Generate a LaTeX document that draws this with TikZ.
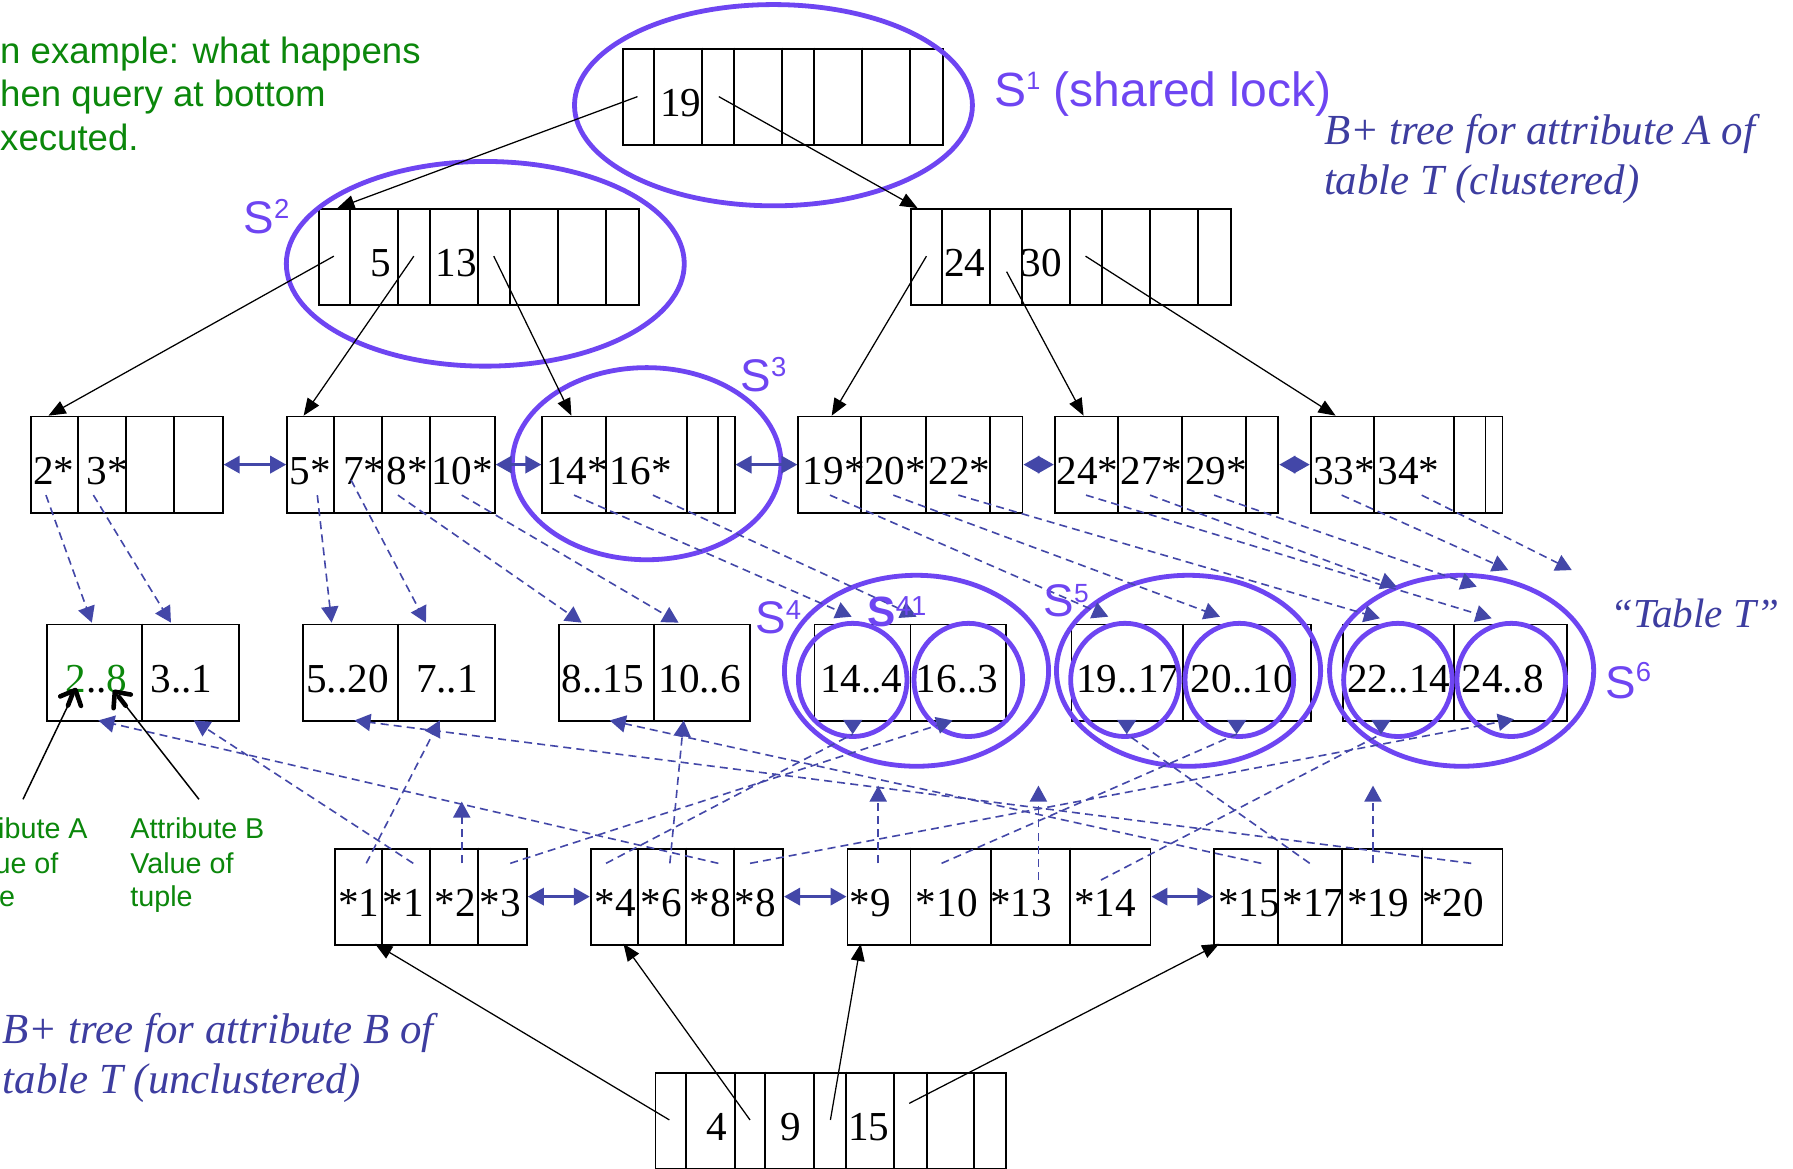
\documentclass[tikz,border=0pt]{standalone}
\usepackage{fontspec}
\setmainfont{Liberation Serif}
\newfontfamily\lsans{Liberation Sans}
\usetikzlibrary{arrows.meta}
\definecolor{lockpurple}{HTML}{6E45F2}
\definecolor{arrowblue}{HTML}{4347A8}
\definecolor{textblue}{HTML}{3D3DA0}
\definecolor{greentxt}{HTML}{0B870B}
\newcommand\lup[3]{\raisebox{#1pt}{\fontsize{#2}{#2}\selectfont #3}}
\newcommand\cellbox[5]{%
  \node[box, minimum width={(#4-#3)*1pt}] (#1) at (#3,#2) {};
  \foreach \xx in {#5} \draw[divider] (\xx,#2) -- (\xx,#2+84);
}
\tikzset{
  box/.style={draw, line width=1.6pt, inner sep=0pt, minimum height=84pt, anchor=north west},
  divider/.style={line width=1.6pt},
  num/.style={anchor=base west, inner sep=0pt, font=\fontsize{36}{36}\selectfont},
  treeptr/.style={line width=1.1pt, -{Triangle[length=15pt,width=12pt]}},
  dptr/.style={arrowblue, line width=1.4pt, dash pattern=on 7pt off 4.5pt, -{Triangle[length=14pt,width=15pt]}},
  dline/.style={arrowblue, line width=1.4pt, dash pattern=on 7pt off 4.5pt},
  bidir/.style={arrowblue, line width=2.6pt, {Triangle[length=14pt,width=15pt]}-{Triangle[length=14pt,width=15pt]}},
  lock/.style={draw=lockpurple, line width=4.2pt},
  slabel/.style={text=lockpurple, anchor=base west, inner sep=0pt, font=\lsans\fontsize{40}{40}\selectfont},
  bluetxt/.style={text=textblue, anchor=base west, inner sep=0pt, font=\itshape\fontsize{37.5}{37.5}\selectfont},
  greenbig/.style={text=greentxt, anchor=base west, inner sep=0pt, font=\lsans\fontsize{32}{32}\selectfont},
  greensmall/.style={text=greentxt, inner sep=0pt, font=\lsans\fontsize{25.1}{25.1}\selectfont},
  callout/.style={line width=1.3pt},
  barb/.style={line width=4pt, line cap=round, line join=round},
}
\begin{document}
\begin{tikzpicture}[x=1pt,y=-1pt]
\useasboundingbox (0,0) rectangle (1568,1022);
\fill[white] (0,0) rectangle (1568,1022);
\begin{scope}
\clip (0,0) rectangle (1568,1022);

% ---------- boxes ----------
\cellbox{root}{41.7}{543.8}{823.8}{571.8,613.8,641.8,683.8,711.8,753.8,795.8}
\cellbox{inA}{181.9}{278}{558}{306,348,376,418,446,488,530}
\cellbox{inB}{181.9}{796}{1076}{824,866,894,936,964,1006,1048}
\cellbox{broot}{937.2}{572.5}{879.3}{600.1,642.5,669.3,711.5,739.7,782.1,810.3,851.6}

\cellbox{leaf1}{363.5}{26.3}{194}{68.3,110.2,152.2}
\cellbox{leaf2}{363.5}{250.3}{431.9}{292.2,334.2,376.1}
\cellbox{leaf3}{363.5}{473.4}{641.6}{530,600.5,628.2}
\cellbox{leaf4}{363.5}{697.3}{893.4}{753.2,809.8,865.7}
\cellbox{leaf5}{363.5}{921.6}{1117.1}{977.6,1033.5,1089.4}
\cellbox{leaf6}{363.5}{1145.4}{1313.2}{1201.3,1271.3,1299}

\cellbox{page1}{545.4}{40.2}{208}{124}
\cellbox{page2}{545.4}{264.1}{431.9}{348}
\cellbox{page3}{545.4}{488.1}{655.4}{572}
\cellbox{page4}{545.4}{711.5}{879.3}{796.2}
\cellbox{page5}{545.4}{936.3}{1145.6}{1034.2}
\cellbox{page6}{545.4}{1173.4}{1369.5}{1271.5}

\cellbox{bl1}{741.3}{292.2}{460}{334.2,376.1,418.1}
\cellbox{bl2}{741.3}{515.8}{684}{557.8,600.1,642.1}
\cellbox{bl3}{741.3}{740.3}{1005.3}{796.2,866.3,935.7}
\cellbox{bl4}{741.3}{1061.2}{1313.2}{1117.6,1173.6,1243.6}

% ---------- texts in boxes ----------
\node[num] (k1) at (577,101.7) {19};
\node[num] (k2) at (324,241.9) {5};
\node[num] (k3) at (380.7,241.9) {13};
\node[num] (k4) at (825.5,241.9) {24};
\node[num] (k5) at (892.5,241.9) {30};
\node[num] (k6) at (618,997.2) {4};
\node[num] (k7) at (682.6,997.2) {9};
\node[num] (k8) at (741.4,997.2) {15};
\foreach \x/\t [count=\i] in {29/2*,75.8/3*,253/5*,299.8/7*,337.8/8*,377/10*,477.4/14*,533.2/16*,701.9/19*,755.6/20*,812/22*,923.9/24*,979.8/27*,1036.3/29*,1148.2/33*,1204.6/34*}
  \node[num] (lt\i) at (\x,423.5) {\t};
\foreach \x/\t [count=\i] in {57.1/{\textcolor{greentxt}{2}..\textcolor{greentxt}{8}},131.6/3..1,267.7/5..20,363.6/7..1,490.8/8..15,575.6/10..6,717.1/14..4,800.8/16..3,941/19..17,1041.3/20..10,1178.1/22..14,1278.1/24..8}
  \node[num] (dt\i) at (\x,605.4) {\t};
\foreach \x/\t [count=\i] in {295.4/*1,334.6/*1,380.1/*2,419.4/*3,519.8/*4,560/*6,603.2/*8,642.5/*8,743/*9,800.8/*10,865.8/*13,939.2/*14,1065.2/*15,1121.6/*17,1178.1/*19,1243.6/*20}
  \node[num] (bt\i) at (\x,801.3) {\t};

% ---------- lock ellipses ----------
\draw[lock] (676.4,92) ellipse [x radius=174, y radius=88];
\draw[lock] (424.4,230.7) ellipse [x radius=174, y radius=89.5];
\draw[lock] (565.5,405.5) ellipse [x radius=117.5, y radius=84];
\draw[lock] (801.5,586.6) ellipse [x radius=115.5, y radius=83.5];
\draw[lock] (1039.4,586.6) ellipse [x radius=115.5, y radius=83.5];
\draw[lock] (1278.2,586.6) ellipse [x radius=115.5, y radius=83.5];
\foreach \cx in {745.7,846.8,983.8,1083.8,1222.5,1321.6}
  \draw[lock] (\cx,594.6) ellipse [x radius=47.5, y radius=49.5];

% ---------- sibling pointers ----------
\draw[bidir] (leaf1) -- (leaf2);
\draw[bidir] (leaf2) -- (leaf3);
\draw[bidir] (leaf3) -- (leaf4);
\draw[bidir] (leaf4) -- (leaf5);
\draw[bidir] (leaf5) -- (leaf6);
\draw[bidir] (bl1) -- (bl2);
\draw[bidir] (bl2) -- (bl3);
\draw[bidir] (bl3) -- (bl4);

% ---------- A-tree leaves to tuples ----------
\foreach \a/\b/\c/\d [count=\i] in {40.2/433/80.3/544.5, 81.7/433/149.5/544.5, 277.5/433/290/544.5, 307/419.8/372.5/544.5, 348/433/508.6/544.5, 403.8/433/593.4/544.5, 502/433/744.8/539.3, 571/433/801.6/539.3, 725.8/433/969.2/539.3, 781.2/433/1066.9/539.3, 838.1/433/1206.8/540.7, 949.7/433/1304.5/540.7, 1005.7/433/1221.4/513, 1061.7/433/1291.4/513, 1173.3/433/1319/498.5, 1243.3/433/1374.5/498.5}
{
  \coordinate (as\i) at (\a,\b);
  \coordinate (ae\i) at (\c,\d);
  \draw[dptr] (as\i) -- (ae\i);
}

% ---------- B-tree leaves to tuples ----------
\foreach \a/\b/\c/\d [count=\i] in {320.3/755/384.6/630, 361.4/755/169.5/630, 403.8/755/403.8/701, 446.2/755/833/630, 585.8/755/597.9/630, 628.2/755/86/630, 655.9/755/1324/629, 768/755/768/687, 908.1/769.6/908.1/687, 1103/755/533.2/630, 1200.7/755/1200.7/687, 1286.6/755/310/630}
{
  \coordinate (bs\i) at (\a,\b);
  \coordinate (be\i) at (\c,\d);
  \draw[dptr] (bs\i) -- (be\i);
}
\foreach \a/\b/\c/\d [count=\i] in {530/755/745.7/642, 823.4/755/1081.5/642, 962.8/769.6/1207.7/642, 1145.4/755/985.3/642}
{
  \coordinate (vs\i) at (\a,\b);
  \coordinate (ve\i) at (\c,\d);
  \draw[dline] (vs\i) -- (ve\i);
  \fill[arrowblue] ([shift={(-8.5,-12.5)}]ve\i) -- ([shift={(8.5,-12.5)}]ve\i) -- (ve\i) -- cycle;
}

% ---------- tree pointers ----------
\foreach \a/\b/\c/\d [count=\i] in {557.5/84.5/295/182, 628.6/84.5/802.4/182, 292/224/42.4/363.5, 361.9/224/265.5/363.5, 431.8/224/499.7/363.5, 810.2/224/727.3/363.5, 880.3/237.6/947.6/363.5, 949.3/224/1168/363.5, 585.4/979.4/327.9/825.3, 655.9/979.4/545.2/825.3, 726.2/979.4/752.7/825.3, 795.1/964.9/1066.3/825.3}
{
  \coordinate (ts\i) at (\a,\b);
  \coordinate (te\i) at (\c,\d);
  \draw[treeptr] (ts\i) -- (te\i);
}

% ---------- callouts ----------
\coordinate (ca1) at (20.1,699);
\coordinate (ca1e) at (66,603.4);
\coordinate (ca2) at (174,699);
\coordinate (ca2e) at (100.4,604.9);
\draw[callout] (ca1) -- (ca1e);
\draw[callout] (ca2) -- (ca2e);
\draw[barb] (70.8,617.3) -- (ca1e) -- (52.6,609.0);
\draw[barb] ([shift={(-2.5,3.2)}]ca1e) -- ([shift={(-6.5,13.5)}]ca1e);
\draw[barb] (114.4,607.4) -- (ca2e) -- (99.3,619.3);
\draw[barb] ([shift={(3.7,4.7)}]ca2e) -- ([shift={(9.5,12.2)}]ca2e);

% ---------- labels ----------
\node[slabel, font=\lsans\fontsize{42}{42}\selectfont] (sl1) at (869.4,92.7) {S\lup{14.5}{22}{1} (shared lock)};
\node[slabel] (sl2) at (212.8,204) {S\lup{13}{24}{2}};
\node[slabel] (sl3) at (647.5,342.5) {S\lup{13}{24}{3}};
\node[slabel] (sl4) at (660.3,553.7) {S\lup{12}{24}{4}};
\node[slabel, font=\lsans\bfseries\fontsize{37}{37}\selectfont] (sl41) at (758.5,548) {S\lup{10}{24}{\mdseries 41}};
\node[slabel] (sl5) at (912.4,539.3) {S\lup{12}{23}{5}};
\node[slabel] (sl6) at (1403.6,611) {S\lup{15}{24}{6}};

\node[bluetxt] (ba1) at (1157.7,126.8) {B+ tree for attribute A of};
\node[bluetxt] (ba2) at (1157.7,170.5) {table T (clustered)};
\node[bluetxt] (bb1) at (2.2,912.4) {B+ tree for attribute B of};
\node[bluetxt] (bb2) at (2.2,956.1) {table T (unclustered)};
\node[bluetxt, font=\itshape\fontsize{36}{36}\selectfont] (tt) at (1408,548.6) {“Table T”};

\node[greenbig] (g1) at (0,55.4) {n example: what happens};
\node[greenbig] (g2) at (0,92.7) {hen query at bottom};
\node[greenbig] (g3) at (0,131.2) {xecuted.};
\node[greensmall, anchor=base west] (h1) at (113.8,733.1) {Attribute B};
\node[greensmall, anchor=base west] (h2) at (113.8,763.7) {Value of};
\node[greensmall, anchor=base west] (h3) at (113.8,792.9) {tuple};
\node[greensmall, anchor=base east] (i1) at (76.8,733.1) {ibute A};
\node[greensmall, anchor=base east] (i2) at (51.3,763.7) {ue of};
\node[greensmall, anchor=base east] (i3) at (13.4,792.9) {e};
\end{scope}
\end{tikzpicture}
\end{document}
